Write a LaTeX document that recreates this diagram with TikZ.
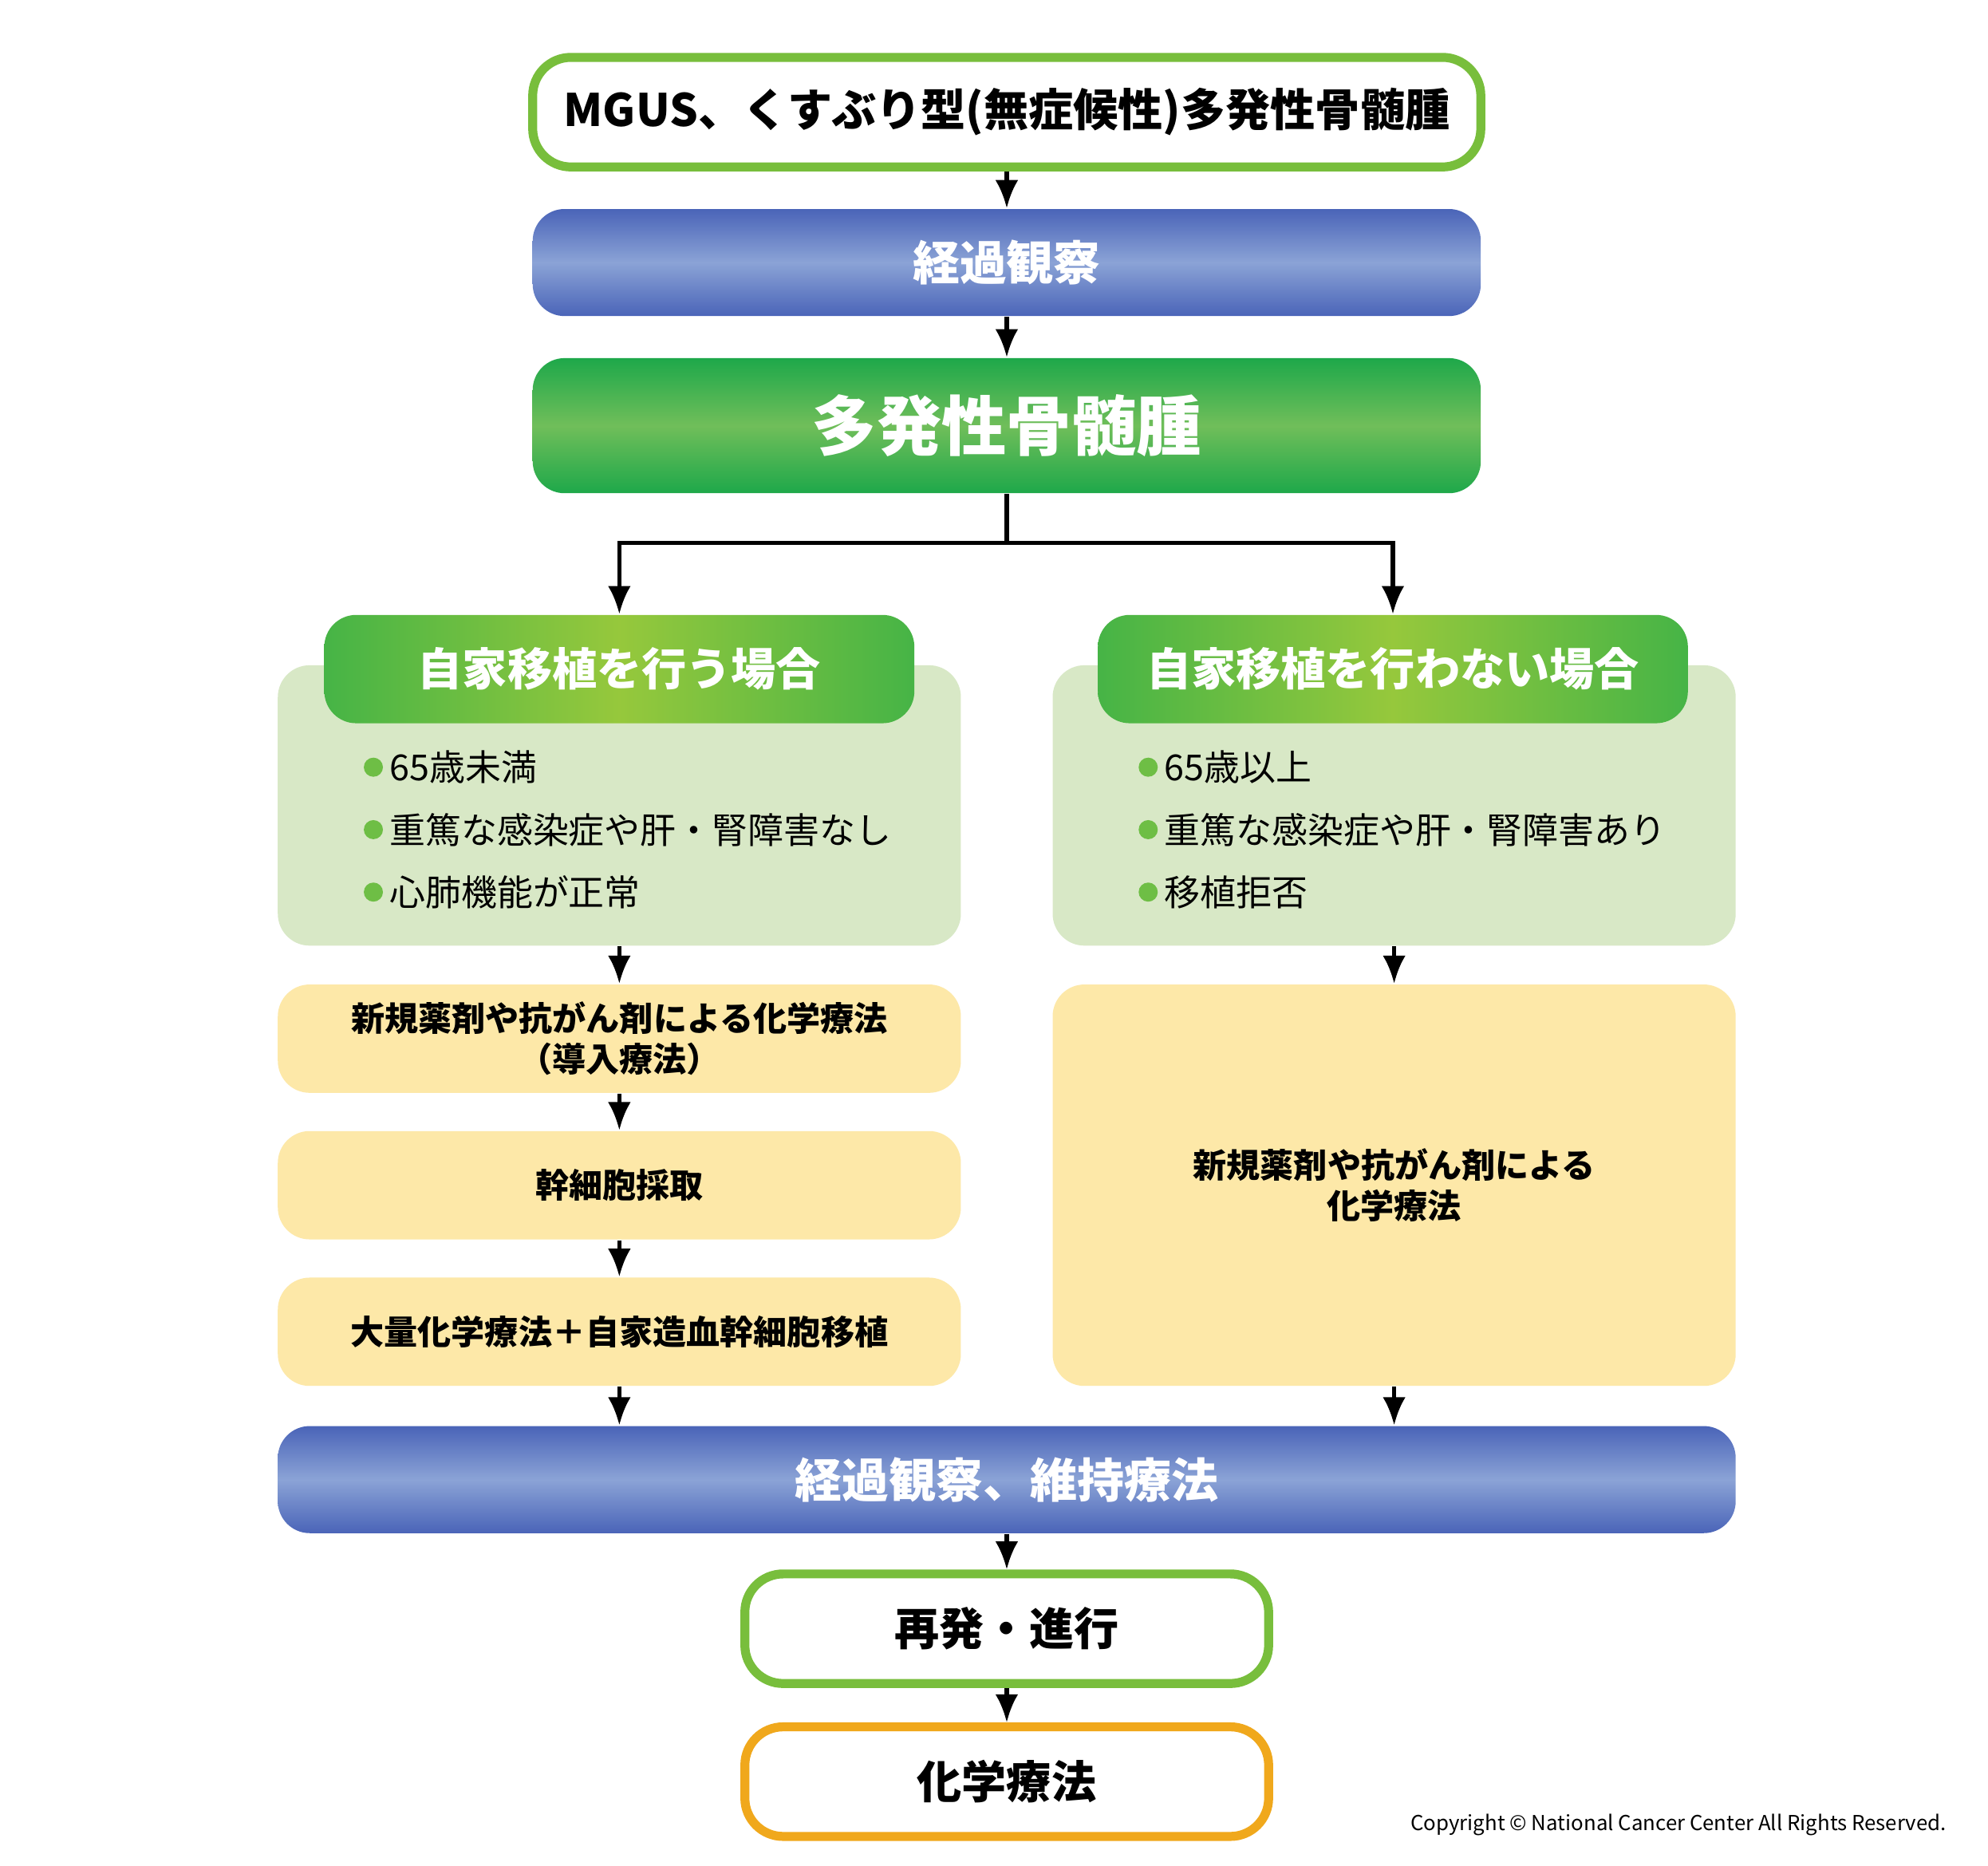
\documentclass[tikz,border=0pt]{standalone}
\usepackage{fontspec}
\newfontfamily\jp{Noto Sans CJK JP}
\setmainfont{Noto Sans CJK JP}
\usetikzlibrary{positioning, arrows.meta}
\definecolor{framegreen}{RGB}{120, 190, 60}
\definecolor{frameorange}{RGB}{240, 168, 28}
\definecolor{blueedge}{RGB}{74, 100, 184}
\definecolor{bluemid}{RGB}{139, 163, 214}
\definecolor{greenedge}{RGB}{30, 168, 74}
\definecolor{greenmid}{RGB}{112, 190, 90}
\definecolor{headyellow}{RGB}{150, 200, 60}
\definecolor{headgreen}{RGB}{70, 180, 70}
\definecolor{panelgreen}{RGB}{216, 232, 198}
\definecolor{paleyellow}{RGB}{253, 232, 168}
\definecolor{dotgreen}{RGB}{110, 190, 69}

\tikzset{
    arr/.style={-{Latex[length=2.2mm, width=1.8mm]}, line width=0.9pt},
    framebox/.style={draw=framegreen, line width=2pt, fill=white, rounded corners=3mm,
        inner sep=0pt, minimum height=8.6mm, font=\jp\bfseries\fontsize{10}{12}\selectfont},
    bluebar/.style={rounded corners=2.5mm, top color=blueedge, bottom color=blueedge,
        middle color=bluemid, inner sep=0pt, minimum height=8.4mm, text=white,
        font=\jp\bfseries\fontsize{10.5}{12}\selectfont},
    headbar/.style={rounded corners=2.5mm, left color=headgreen, right color=headgreen,
        middle color=headyellow, inner sep=0pt, minimum width=46.3mm, minimum height=8.5mm, text=white,
        font=\jp\bfseries\fontsize{10}{12}\selectfont},
    panel/.style={fill=panelgreen, rounded corners=2.5mm, minimum width=53.6mm, minimum height=22mm},
    stepbox/.style={fill=paleyellow, rounded corners=2.5mm, inner sep=0pt, minimum width=53.6mm,
        minimum height=8.5mm, align=center, font=\jp\bfseries\fontsize{7.5}{9}\selectfont},
    bullet/.style={anchor=west, inner sep=0pt, font=\jp\fontsize{8}{10}\selectfont},
}

\begin{document}
\begin{tikzpicture}[x=0.1mm, y=-0.1mm]
    % Page frame
    \fill[white] (0,0) rectangle (1560, 1464);
    \useasboundingbox (0,0) rectangle (1560, 1464);

    % Top part
    \node[framebox, minimum width=74.4mm] (mgus) at (790, 88) {MGUS、くすぶり型(無症候性)多発性骨髄腫};
    \node[bluebar, minimum width=74.4mm] (watch) at (790, 206) {経過観察};
    \node[rounded corners=2.5mm, top color=greenedge, bottom color=greenedge, middle color=greenmid,
        inner sep=0pt, minimum width=74.4mm, minimum height=10.6mm, text=white,
        font=\jp\bfseries\fontsize{14.5}{17}\selectfont] (mm) at (790, 334) {多発性骨髄腫};

    % Side panels
    \node[panel] (lpanel) at (486, 632) {};
    \node[panel] (rpanel) at (1094, 632) {};
    \node[headbar] (lhead) at (486, 525) {自家移植を行う場合};
    \node[headbar] (rhead) at (1093, 525) {自家移植を行わない場合};

    % Conditions
    \foreach \y/\txt in {602/65歳未満, 651/重篤な感染症や肝・腎障害なし, 700/心肺機能が正常} {
        \fill[dotgreen] (293, \y) circle (7.5);
        \node[bullet] at (305, \y) {\txt};
    }
    \foreach \y/\txt in {602/65歳以上, 651/重篤な感染症や肝・腎障害あり, 700/移植拒否} {
        \fill[dotgreen] (901, \y) circle (7.5);
        \node[bullet] at (913, \y) {\txt};
    }

    % Treatment steps
    \node[stepbox] (induct) at (486, 815) {新規薬剤や抗がん剤による化学療法\\（導入療法）};
    \node[stepbox] (harvest) at (486, 930) {幹細胞採取};
    \node[stepbox] (transpl) at (486, 1045) {大量化学療法＋自家造血幹細胞移植};
    \node[stepbox, minimum height=31.5mm] (chemo) at (1094, 930) {新規薬剤や抗がん剤による\\化学療法};

    % Bottom part
    \node[bluebar, minimum width=114.4mm] (maint) at (790, 1161) {経過観察、維持療法};
    \node[framebox, minimum width=41.1mm] (relapse) at (790, 1278) {再発・進行};
    \node[framebox, draw=frameorange, minimum width=41.1mm] (rechemo) at (790, 1398) {化学療法};

    % Connectors
    \draw[arr] (mgus) -- (watch);
    \draw[arr] (watch) -- (mm);
    \draw[arr] (mm.south) -- ++(0, 38) -| (lhead.north);
    \draw[arr] (mm.south) -- ++(0, 38) -| (rhead.north);
    \draw[arr] (lpanel) -- (induct);
    \draw[arr] (induct) -- (harvest);
    \draw[arr] (harvest) -- (transpl);
    \draw[arr] (rpanel) -- (chemo);
    \draw[arr] (transpl.south) -- (transpl.south |- maint.north);
    \draw[arr] (chemo.south) -- (chemo.south |- maint.north);
    \draw[arr] (maint) -- (relapse);
    \draw[arr] (relapse) -- (rechemo);

    % Copyright
    \node[anchor=east, inner sep=0pt, font=\jp\fontsize{4.6}{5}\selectfont] (copy) at (1528, 1432)
        {Copyright © National Cancer Center All Rights Reserved.};
\end{tikzpicture}
\end{document}
